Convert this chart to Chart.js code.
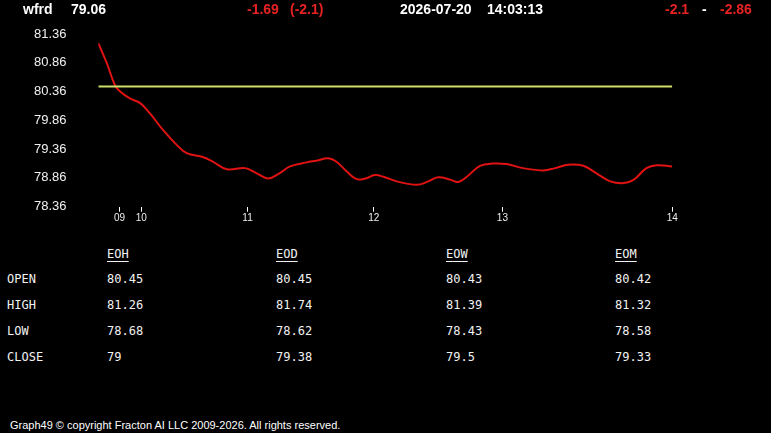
<!DOCTYPE html>
<html>
<head>
<meta charset="utf-8">
<script src="https://cdn.jsdelivr.net/npm/chart.js@4.4.1/dist/chart.umd.min.js"></script>
<style>
  html, body { margin: 0; padding: 0; background: #000; }
  body { width: 771px; height: 433px; position: relative; overflow: hidden; font-family: 'Liberation Sans', Arial, sans-serif; }
  #chart { position: absolute; left: 0; top: 0; }
  .hdr { position: absolute; top: 1px; font: bold 14px 'Liberation Sans', Arial, sans-serif; color: #fff; white-space: pre; }
  .red { color: #e82222; }
  .tbl { position: absolute; font: 12px 'DejaVu Sans Mono', monospace; color: #f2f2f2; white-space: pre; }
  .th { text-decoration: underline; text-underline-offset: 3px; }
  #footer { position: absolute; left: 10px; top: 419px; font: 11px 'Liberation Sans', Arial, sans-serif; color: #fff; }
</style>
</head>
<body>
<canvas id="chart" width="771" height="230"></canvas>
<div id="header"></div>
<div id="table"></div>
<div id="footer">Graph49 © copyright Fracton AI LLC 2009-2026. All rights reserved.</div>
<script>
'use strict';

// ── Data ───────────────────────────────────────────────────────
const symbol     = 'wfrd';
const lastPrice  = '79.06';
const changeText = '-1.69';
const changePct  = '(-2.1)';
const dateText   = '2026-07-20';
const timeText   = '14:03:13';
const rangeLo    = '-2.1';
const rangeHi    = '-2.86';

// x = session position (0 = start, 100 = end of plotted session)
const sessionX = [0, 1.5, 2.9, 3.8, 5.5, 7.3, 9.0, 11.3, 13.7, 15.4, 18.3, 20.0, 22.4, 25.6,
  27.6, 29.6, 31.4, 33.4, 36.3, 38.0, 40.1, 41.5, 43.3, 45.0, 46.5, 48.2, 49.7, 52.0, 55.5,
  57.5, 59.2, 61.3, 62.7, 64.2, 66.5, 68.8, 71.1, 74.0, 77.5, 79.6, 81.9, 84.5, 86.8, 89.2,
  91.6, 93.3, 95.5, 97.3, 100];
const priceY = [81.20, 80.85, 80.47, 80.36, 80.24, 80.16, 79.98, 79.69, 79.43, 79.29, 79.22,
  79.14, 79.01, 79.03, 78.94, 78.85, 78.93, 79.06, 79.13, 79.16, 79.20, 79.14, 78.97, 78.84,
  78.85, 78.91, 78.88, 78.80, 78.74, 78.80, 78.87, 78.83, 78.79, 78.88, 79.07, 79.11, 79.10,
  79.03, 78.99, 79.03, 79.09, 79.07, 78.94, 78.80, 78.77, 78.83, 79.03, 79.08, 79.06];
const openLevel = 80.45;

const yTicks      = [78.36, 78.86, 79.36, 79.86, 80.36, 80.86, 81.36];
const xTickPos    = [3.7, 7.5, 26.0, 48.0, 70.4, 100];
const xTickLabels = ['09', '10', '11', '12', '13', '14'];

const tableCols  = ['EOH', 'EOD', 'EOW', 'EOM'];
const rowLabels  = ['OPEN', 'HIGH', 'LOW', 'CLOSE'];
const openVals   = ['80.45', '80.45', '80.43', '80.42'];
const highVals   = ['81.26', '81.74', '81.39', '81.32'];
const lowVals    = ['78.68', '78.62', '78.43', '78.58'];
const closeVals  = ['79', '79.38', '79.5', '79.33'];

// ── Header ─────────────────────────────────────────────────────
function put(parent, cls, text, left, top, extraCls) {
  const d = document.createElement('div');
  d.className = cls + (extraCls ? ' ' + extraCls : '');
  d.textContent = text;
  d.style.left = left + 'px';
  if (top !== null) d.style.top = top + 'px';
  parent.appendChild(d);
  return d;
}

const header = document.getElementById('header');
put(header, 'hdr', symbol,     23,  null);
put(header, 'hdr', lastPrice,  71,  null);
put(header, 'hdr', changeText, 247, null, 'red');
put(header, 'hdr', changePct,  290, null, 'red');
put(header, 'hdr', dateText,   400, null);
put(header, 'hdr', timeText,   487, null);
put(header, 'hdr', rangeLo,    665, null, 'red');
put(header, 'hdr', '-',        702, null);
put(header, 'hdr', rangeHi,    720, null, 'red');

// ── OHLC table ─────────────────────────────────────────────────
const table   = document.getElementById('table');
const colX    = [107, 276, 446, 615];
const rowY    = [272, 298, 324, 350];
const rowVals = [openVals, highVals, lowVals, closeVals];

tableCols.forEach((c, i) => put(table, 'tbl', c, colX[i], 247, 'th'));
rowLabels.forEach((r, j) => {
  put(table, 'tbl', r, 7, rowY[j]);
  rowVals[j].forEach((v, i) => put(table, 'tbl', v, colX[i], rowY[j]));
});

// ── Chart ──────────────────────────────────────────────────────
Chart.defaults.font.family = "'Liberation Sans', Arial, sans-serif";
Chart.defaults.animation   = false;

new Chart(document.getElementById('chart').getContext('2d'), {
  type: 'line',
  data: {
    datasets: [
      {
        label: 'open',
        data: [{ x: sessionX[0], y: openLevel }, { x: sessionX[sessionX.length - 1], y: openLevel }],
        borderColor: '#cfdd6a',
        borderWidth: 2,
        pointRadius: 0,
        tension: 0,
      },
      {
        label: symbol,
        data: sessionX.map((x, i) => ({ x, y: priceY[i] })),
        borderColor: '#e01212',
        borderWidth: 2,
        pointRadius: 0,
        tension: 0.4,
      },
    ],
  },
  options: {
    responsive: false,
    devicePixelRatio: 1,
    layout: { padding: { left: 34, top: 34, right: 98.7, bottom: 0 } },
    plugins: { legend: { display: false }, tooltip: { enabled: false } },
    scales: {
      x: {
        type: 'linear',
        min: 0,
        max: 100,
        afterBuildTicks: s => { s.ticks = xTickPos.map(v => ({ value: v })); },
        afterFit: s => { s.height = 23.3; },
        border: { display: false },
        grid: { drawOnChartArea: false, drawTicks: true, tickLength: 5, color: '#ffffff' },
        ticks: {
          autoSkip: false,
          maxRotation: 0,
          padding: 1,
          color: '#eeeeee',
          font: { size: 10 },
          callback: (v, i) => xTickLabels[i],
        },
      },
      y: {
        min: yTicks[0],
        max: yTicks[yTicks.length - 1],
        afterBuildTicks: s => { s.ticks = yTicks.map(v => ({ value: v })); },
        afterFit: s => { s.width = 64.3; },
        border: { display: false },
        grid: { display: false },
        ticks: {
          autoSkip: false,
          crossAlign: 'far',
          padding: 0,
          color: '#f0f0f0',
          font: { size: 13 },
          callback: v => v.toFixed(2),
        },
      },
    },
  },
});
</script>
</body>
</html>
